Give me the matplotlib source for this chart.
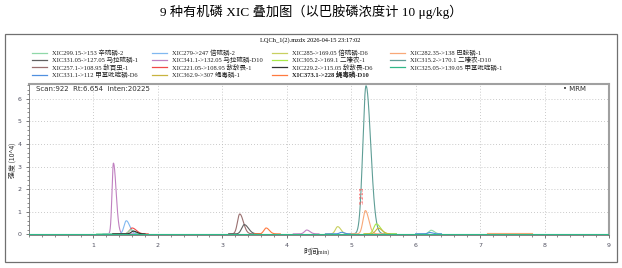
import numpy as np
import matplotlib
matplotlib.use("Agg")
import matplotlib.pyplot as plt
from matplotlib.lines import Line2D
from matplotlib.patches import Rectangle
from matplotlib.ticker import MultipleLocator

plt.rcParams['font.family'] = ['Liberation Serif', 'Noto Sans CJK SC', 'DejaVu Sans']

title = "9 种有机磷 XIC 叠加图（以巴胺磷浓度计 10 μg/kg）"
file_label = "LQCh_1(2).mzdx 2026-04-15 23:17:02"
info_label = "Scan:922  Rt:6.654  Inten:20225"
mode_label = "• MRM"
x_label = "时间(min)"
y_label = "强度 (10^4)"

# legend entries (row-major, 4 columns)
legend_labels = [
    "XIC299.15->153 辛硫磷-2", "XIC279->247 倍硫磷-2", "XIC285->169.05 倍硫磷-D6", "XIC282.35->138 巴胺磷-1",
    "XIC331.05->127.05 马拉硫磷-1", "XIC341.1->132.05 马拉硫磷-D10", "XIC305.2->169.1 二嗪农-1", "XIC315.2->170.1 二嗪农-D10",
    "XIC257.1->108.95 敌百虫-1", "XIC221.05->108.95 敌敌畏-1", "XIC229.2->115.05 敌敌畏-D6", "XIC325.05->139.05 甲基吡啶磷-1",
    "XIC331.1->112 甲基吡啶磷-D6", "XIC362.9->307 蝇毒磷-1", "XIC373.1->228 蝇毒磷-D10",
]
legend_colors = [
    "#8fd8a8", "#80b8f0", "#c8d060", "#f8a878",
    "#606060", "#c080c0", "#a8e848", "#5f9e96",
    "#9a7070", "#f04848", "#303030", "#30b888",
    "#5090e0", "#c8b440", "#ff7a40",
]

# traces: index into legend, window start/end, peak retention times, heights (x10^4), widths (min), tail factor
trace_idx    = [11, 5, 1, 9, 0, 10, 8, 4, 14, 5, 2, 12, 7, 3, 6, 13, 0, 12, 3]
trace_start  = [0.0, 1.15, 1.15, 1.3, 1.05, 1.3, 3.1, 3.1, 3.5, 4.1, 4.6, 4.6, 5.0, 5.0, 5.2, 5.2, 6.0, 6.0, 7.1]
trace_end    = [9.0, 1.7, 1.7, 1.85, 1.7, 1.8, 3.6, 3.6, 3.9, 4.5, 5.0, 5.0, 5.7, 5.5, 5.7, 5.6, 6.4, 6.4, 7.8]
trace_rt     = [5.0, 1.31, 1.51, 1.60, 1.58, 1.62, 3.27, 3.34, 3.68, 4.31, 4.79, 4.85, 5.23, 5.22, 5.39, 5.42, 6.24, 6.22, 7.45]
trace_height = [0.0, 3.13, 0.58, 0.26, 0.18, 0.12, 0.88, 0.41, 0.26, 0.17, 0.32, 0.07, 6.55, 1.03, 0.44, 0.25, 0.16, 0.06, 0.0]
trace_width  = [0.05, 0.022, 0.035, 0.04, 0.035, 0.035, 0.035, 0.04, 0.035, 0.035, 0.035, 0.03, 0.05, 0.037, 0.04, 0.04, 0.035, 0.03, 0.05]
trace_tail   = [1.0, 1.9, 1.5, 1.6, 1.5, 1.5, 1.6, 1.6, 1.4, 1.4, 1.4, 1.4, 1.45, 1.4, 1.6, 1.5, 1.4, 1.4, 1.0]
trace_base   = [0.02, 0.02, 0.02, 0.02, 0.02, 0.02, 0.02, 0.02, 0.02, 0.02, 0.02, 0.02, 0.02, 0.02, 0.02, 0.02, 0.02, 0.02, 0.06]

peak_label = "5.213"
peak_label_rt = 5.213
peak_label_y = 1.75

x_ticks = [1, 2, 3, 4, 5, 6, 7, 8, 9]
y_ticks = [0, 1, 2, 3, 4, 5, 6]

W, H = 622, 268
fig = plt.figure(figsize=(W / 100, H / 100), dpi=100)

def fx(px):
    return px / W

def fy(py):
    return 1 - py / H

# outer frame
fig.patches.append(Rectangle((fx(5), fy(262)), fx(617) - fx(5), fy(34) - fy(262),
                             transform=fig.transFigure, fill=False, ec="#707070", lw=0.9))

fig.text(0.5, fy(12), title, ha="center", va="center", fontsize=9.5,
         family=['Liberation Serif', 'Noto Sans CJK SC'])
fig.text(fx(310), fy(40), file_label, ha="center", va="center", fontsize=4.6,
         family=['Liberation Serif', 'Noto Sans CJK SC'])

col_line_x = [32, 152, 272, 390]
row_y = [52.7, 60, 67.3, 74.5]
for i, (lab, col) in enumerate(zip(legend_labels, legend_colors)):
    r, c = divmod(i, 4)
    x0 = col_line_x[c]
    y0 = row_y[r]
    fig.add_artist(Line2D([fx(x0), fx(x0 + 15)], [fy(y0), fy(y0)], color=col, lw=0.9,
                          transform=fig.transFigure))
    fig.text(fx(x0 + 20), fy(y0), lab, ha="left", va="center", fontsize=4.7,
             fontweight="bold" if i == 14 else "normal", color="#202020",
             family=['Liberation Serif', 'Noto Sans CJK SC'])

ax = fig.add_axes([fx(29), fy(235), fx(609) - fx(29), fy(84) - fy(235)])

for k in range(len(trace_idx)):
    t = np.linspace(trace_start[k], trace_end[k], 800)
    z = (t - trace_rt[k]) / trace_width[k]
    # slightly tailed peak shape
    s = np.where(z < 0, 1.0, trace_tail[k])
    y = trace_base[k] + trace_height[k] * np.exp(-0.5 * (z / s) ** 2)
    ax.plot(t, y, color=legend_colors[trace_idx[k]], lw=0.8, zorder=3 if k else 4)

ax.text(peak_label_rt, peak_label_y, peak_label, rotation=90, color="#ff5050",
        fontsize=4.5, ha="right", va="center", family="DejaVu Sans")

ax.set_xlim(0, 9)
ax.set_ylim(-0.03, 6.65)
ax.set_xticks(x_ticks)
ax.set_yticks(y_ticks)
ax.xaxis.set_minor_locator(MultipleLocator(0.2))
ax.yaxis.set_minor_locator(MultipleLocator(0.2))
ax.tick_params(axis="both", which="major", labelsize=4.5, labelcolor="#505060",
               color="#606060", length=2.5, width=0.6, pad=3)
ax.tick_params(axis="both", which="minor", color="#606060", length=1.5, width=0.5)
for lab in ax.get_xticklabels() + ax.get_yticklabels():
    lab.set_family("DejaVu Sans")
ax.grid(True, which="major", ls=(0, (1, 2.5)), color="#b8b8b8", lw=0.6)
for side in ["top", "right"]:
    ax.spines[side].set_color("#a0a0a0")
    ax.spines[side].set_linewidth(1.5)
for side in ["left", "bottom"]:
    ax.spines[side].set_color("#707070")
    ax.spines[side].set_linewidth(0.6)

ax.text(0.012, 0.965, info_label, transform=ax.transAxes, fontsize=5,
        ha="left", va="center", color="#303030", family="DejaVu Sans")
ax.text(0.92, 0.965, mode_label, transform=ax.transAxes, fontsize=5,
        ha="left", va="center", color="#303030", family="DejaVu Sans")

fig.text(fx(303), fy(252), "时间", ha="left", va="center", fontsize=5.5,
         family=['Noto Sans CJK SC'], color="#303030")
fig.text(fx(317), fy(252), "(min)", ha="left", va="center", fontsize=4.2,
         family=['Liberation Serif'], color="#303030")
fig.text(fx(13), fy(160), y_label, rotation=90, ha="center", va="center", fontsize=5,
         family=['Noto Sans CJK SC', 'DejaVu Sans'], color="#303030")

fig.savefig("out.png", dpi=100)
